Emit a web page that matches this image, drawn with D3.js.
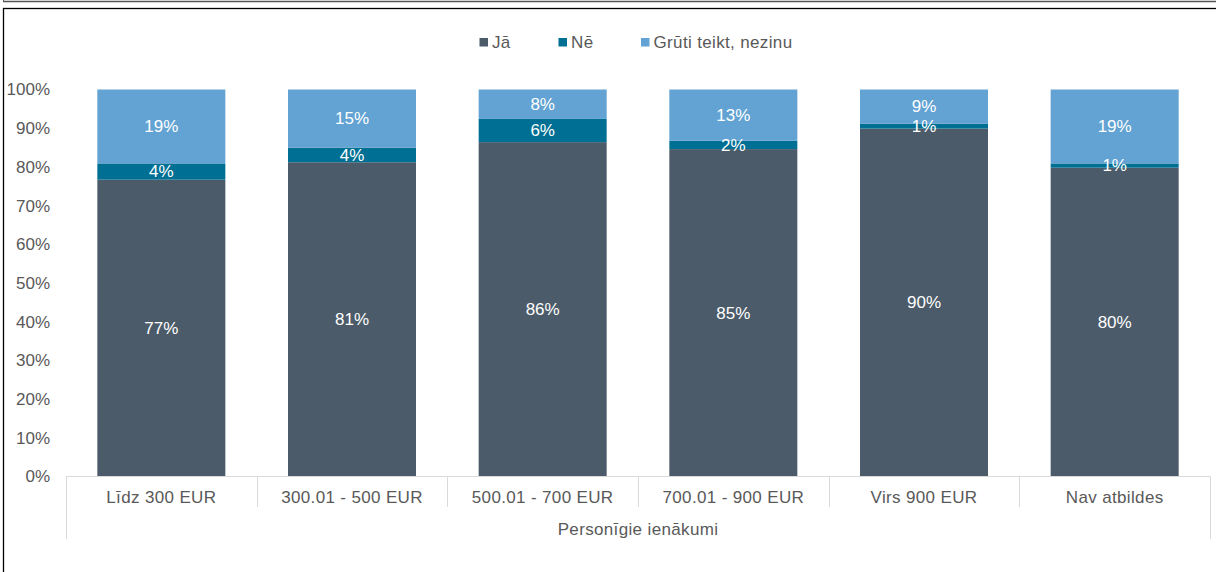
<!DOCTYPE html>
<html>
<head>
<meta charset="utf-8">
<script src="https://cdn.jsdelivr.net/npm/d3@7"></script>
<style>
  body { margin: 0; background: #fff; }
  svg { display: block; font-family: "Liberation Sans", Arial, sans-serif; }
  .words { letter-spacing: 0.35px; }
</style>
</head>
<body>
<div id="chart"></div>
<script>
// income groups
var categories = ['Līdz 300 EUR', '300.01 - 500 EUR', '500.01 - 700 EUR', '700.01 - 900 EUR', 'Virs 900 EUR', 'Nav atbildes'];
var seriesNames = ['Jā', 'Nē', 'Grūti teikt, nezinu'];
var jaValues = [76.7, 81.2, 86.4, 84.6, 89.9, 79.8];
var neValues = [4.2, 3.8, 6.0, 2.2, 1.3, 1.1];
var grutiValues = [19.1, 15.0, 7.6, 13.2, 8.8, 19.1];
var yTicks = [0, 10, 20, 30, 40, 50, 60, 70, 80, 90, 100];
var groupTitle = 'Personīgie ienākumi';

var colors = ['#4b5b69', '#006f94', '#62a3d3'];
const width = 1216, height = 572, fs = 17;

var svg = d3.select('#chart').append('svg')
    .attr('width', width).attr('height', height);

// frame lines
svg.append('line').attr('x1', 3).attr('x2', width).attr('y1', 1.5).attr('y2', 1.5)
    .attr('stroke', '#555').attr('stroke-width', 1.5);
svg.append('line').attr('x1', 3.5).attr('x2', 3.5).attr('y1', 0).attr('y2', 2)
    .attr('stroke', '#555');
svg.append('rect').attr('x', 3.5).attr('y', 8.5).attr('width', width + 10).attr('height', height + 10)
    .attr('fill', 'none').attr('stroke', '#000').attr('stroke-width', 1.3);

var table = categories.map(function(c, i) {
    return { cat: c, 'Jā': jaValues[i], 'Nē': neValues[i], 'Grūti teikt, nezinu': grutiValues[i] };
});
var stacked = d3.stack().keys(seriesNames)(table);

var x = d3.scaleBand().domain(categories).range([66, 1210]).paddingInner(0).paddingOuter(0);
var y = d3.scaleLinear().domain([0, 100]).range([476.5, 89.5]);
var barW = 128;

// y axis labels
svg.append('g').selectAll('text').data(yTicks).enter().append('text')
    .attr('x', 50).attr('y', function(d) { return y(d); })
    .attr('dy', '0.35em').attr('text-anchor', 'end')
    .attr('font-size', fs).attr('fill', '#595959')
    .text(function(d) { return d + '%'; });

// bars
var layers = svg.selectAll('g.layer').data(stacked).enter().append('g')
    .attr('class', 'layer')
    .attr('fill', function(d, i) { return colors[i]; });
layers.selectAll('rect').data(function(d) { return d; }).enter().append('rect')
    .attr('x', function(d) { return x(d.data.cat) + (x.bandwidth() - barW) / 2; })
    .attr('width', barW)
    .attr('y', function(d) { return y(d[1]); })
    .attr('height', function(d) { return y(d[0]) - y(d[1]); });

// value labels
stacked.forEach(function(layer) {
    svg.append('g').selectAll('text').data(layer).enter().append('text')
        .attr('x', function(d) { return x(d.data.cat) + x.bandwidth() / 2; })
        .attr('y', function(d) { return (y(d[0]) + y(d[1])) / 2; })
        .attr('dy', '0.35em').attr('text-anchor', 'middle')
        .attr('font-size', fs).attr('fill', '#fff')
        .text(function(d) { return Math.round(d[1] - d[0]) + '%'; });
});

// category axis
var ax = svg.append('g').attr('stroke', '#d9d9d9').attr('stroke-width', 1);
ax.append('line').attr('x1', 66).attr('x2', 1210).attr('y1', 476.5).attr('y2', 476.5);
var bounds = categories.map(function(c) { return x(c); }).concat([x.range()[1]]);
ax.selectAll('line.sep').data(bounds).enter().append('line')
    .attr('class', 'sep')
    .attr('x1', function(d) { return Math.round(d) + 0.5; })
    .attr('x2', function(d) { return Math.round(d) + 0.5; })
    .attr('y1', 476.5)
    .attr('y2', function(d, i) { return (i === 0 || i === bounds.length - 1) ? 539 : 507; });

svg.append('g').selectAll('text').data(categories).enter().append('text')
    .attr('class', 'words')
    .attr('x', function(d) { return x(d) + x.bandwidth() / 2; })
    .attr('y', 497).attr('dy', '0.35em').attr('text-anchor', 'middle')
    .attr('font-size', fs).attr('fill', '#595959')
    .text(function(d) { return d; });

svg.append('text').attr('class', 'words')
    .attr('x', (66 + 1210) / 2).attr('y', 529).attr('dy', '0.35em')
    .attr('text-anchor', 'middle').attr('font-size', fs).attr('fill', '#595959')
    .text(groupTitle);

// legend
var legendX = [479.5, 558.5, 641];
var leg = svg.selectAll('g.leg').data(seriesNames).enter().append('g')
    .attr('class', 'leg')
    .attr('transform', function(d, i) { return 'translate(' + legendX[i] + ',42.5)'; });
leg.append('rect').attr('x', 0).attr('y', -4.5).attr('width', 8.5).attr('height', 8.5)
    .attr('fill', function(d, i) { return colors[i]; });
leg.append('text').attr('class', 'words')
    .attr('x', 12.5).attr('y', 0).attr('dy', '0.35em')
    .attr('font-size', fs).attr('fill', '#595959')
    .text(function(d) { return d; });
</script>
</body>
</html>
